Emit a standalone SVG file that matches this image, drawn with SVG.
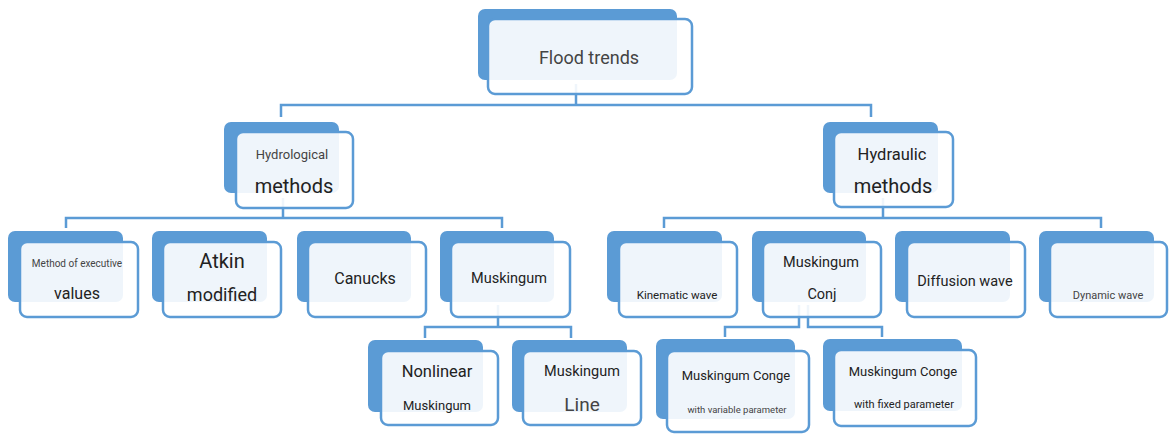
<svg xmlns="http://www.w3.org/2000/svg" width="1169" height="434" viewBox="0 0 1169 434">
<style>
.bk{fill:#5b9bd5;}
.fr{fill:#ffffff;fill-opacity:0.9;stroke:#5b9bd5;stroke-width:2.5;}
.cn{fill:none;stroke:#5b9bd5;stroke-width:2.5;}
text{font-family:Roboto,"Liberation Sans",sans-serif;fill:#222;text-anchor:middle;}
.g{fill:#444;}
</style>
<rect width="1169" height="434" fill="#ffffff"/>
<g id="connectors">
<path class="cn" d="M576,84 V105" stroke-width="3"/>
<path class="cn" d="M281,117 V105 H871 V117"/>
<path class="cn" d="M283,198 V218"/>
<path class="cn" d="M66,228 V218 H502 V228"/>
<path class="cn" d="M883,198 V218"/>
<path class="cn" d="M664,228 V218 H1101 V228"/>
<path class="cn" d="M498,305 V327"/>
<path class="cn" d="M425,338 V327 H571 V338"/>
<path class="cn" d="M799,305 V327 H725 V337"/>
<path class="cn" d="M808,305 V327 H882 V337"/>
</g>
<g id="n-flood">
<rect class="bk" x="478" y="9" width="199" height="71" rx="7"/>
<rect class="fr" x="488" y="19" width="204" height="75" rx="7"/>
<text class="g" x="589" y="63.5" font-size="18">Flood trends</text>
</g>
<g id="n-hydrological">
<rect class="bk" x="224" y="122" width="115" height="71" rx="7"/>
<rect class="fr" x="236" y="132" width="117" height="76" rx="7"/>
<text class="g" x="292" y="158.5" font-size="13">Hydrological</text>
<text x="294" y="193" font-size="20">methods</text>
</g>
<g id="n-hydraulic">
<rect class="bk" x="823" y="122" width="115" height="71" rx="7"/>
<rect class="fr" x="834" y="132" width="119" height="75" rx="7"/>
<text x="892" y="160" font-size="16.5">Hydraulic</text>
<text x="893" y="193" font-size="20">methods</text>
</g>
<g id="n-executive">
<rect class="bk" x="8" y="231" width="115" height="71" rx="7"/>
<rect class="fr" x="20" y="242" width="118" height="75" rx="7"/>
<text class="g" x="77" y="266.5" font-size="10">Method of executive</text>
<text x="77" y="299" font-size="16">values</text>
</g>
<g id="n-atkin">
<rect class="bk" x="152" y="231" width="115" height="71" rx="7"/>
<rect class="fr" x="163" y="242" width="118" height="75" rx="7"/>
<text x="222" y="268" font-size="20">Atkin</text>
<text x="222" y="300.5" font-size="18">modified</text>
</g>
<g id="n-canucks">
<rect class="bk" x="297" y="231" width="114" height="71" rx="7"/>
<rect class="fr" x="308" y="242" width="118" height="75" rx="7"/>
<text x="365" y="283.5" font-size="16">Canucks</text>
</g>
<g id="n-muskingum">
<rect class="bk" x="440" y="231" width="114" height="71" rx="7"/>
<rect class="fr" x="451" y="242" width="119" height="75" rx="7"/>
<text x="509" y="283" font-size="14.5">Muskingum</text>
</g>
<g id="n-kinematic">
<rect class="bk" x="607" y="231" width="115" height="71" rx="7"/>
<rect class="fr" x="619" y="242" width="118" height="75" rx="7"/>
<text x="677" y="299" font-size="11.5">Kinematic wave</text>
</g>
<g id="n-conj">
<rect class="bk" x="752" y="231" width="114" height="71" rx="7"/>
<rect class="fr" x="763" y="242" width="118" height="75" rx="7"/>
<text x="821" y="267" font-size="14.5">Muskingum</text>
<text x="822" y="299" font-size="14.5">Conj</text>
</g>
<g id="n-diffusion">
<rect class="bk" x="895" y="231" width="115" height="71" rx="7"/>
<rect class="fr" x="907" y="242" width="118" height="75" rx="7"/>
<text x="965" y="286" font-size="14.5">Diffusion wave</text>
</g>
<g id="n-dynamic">
<rect class="bk" x="1039" y="231" width="115" height="71" rx="7"/>
<rect class="fr" x="1050" y="242" width="117" height="75" rx="7"/>
<text class="g" x="1108" y="299" font-size="11">Dynamic wave</text>
</g>
<g id="n-nonlinear">
<rect class="bk" x="368" y="340" width="115" height="72" rx="7"/>
<rect class="fr" x="381" y="351" width="117" height="74" rx="7"/>
<text x="437" y="377" font-size="16.5">Nonlinear</text>
<text x="437" y="409.5" font-size="13">Muskingum</text>
</g>
<g id="n-line">
<rect class="bk" x="512" y="340" width="115" height="72" rx="7"/>
<rect class="fr" x="523" y="351" width="118" height="74" rx="7"/>
<text x="582" y="376" font-size="14.5">Muskingum</text>
<text class="g" x="582" y="411" font-size="19">Line</text>
</g>
<g id="n-conge-var">
<rect class="bk" x="656" y="339" width="139" height="80" rx="7"/>
<rect class="fr" x="667" y="351" width="142" height="81" rx="7"/>
<text x="736" y="380" font-size="13">Muskingum Conge</text>
<text class="g" x="737" y="412.5" font-size="9.5">with variable parameter</text>
</g>
<g id="n-conge-fixed">
<rect class="bk" x="823" y="339" width="139" height="72" rx="7"/>
<rect class="fr" x="834" y="350" width="142" height="76" rx="7"/>
<text x="903" y="375.5" font-size="13">Muskingum Conge</text>
<text x="904" y="407.5" font-size="11">with fixed parameter</text>
</g>
</svg>
